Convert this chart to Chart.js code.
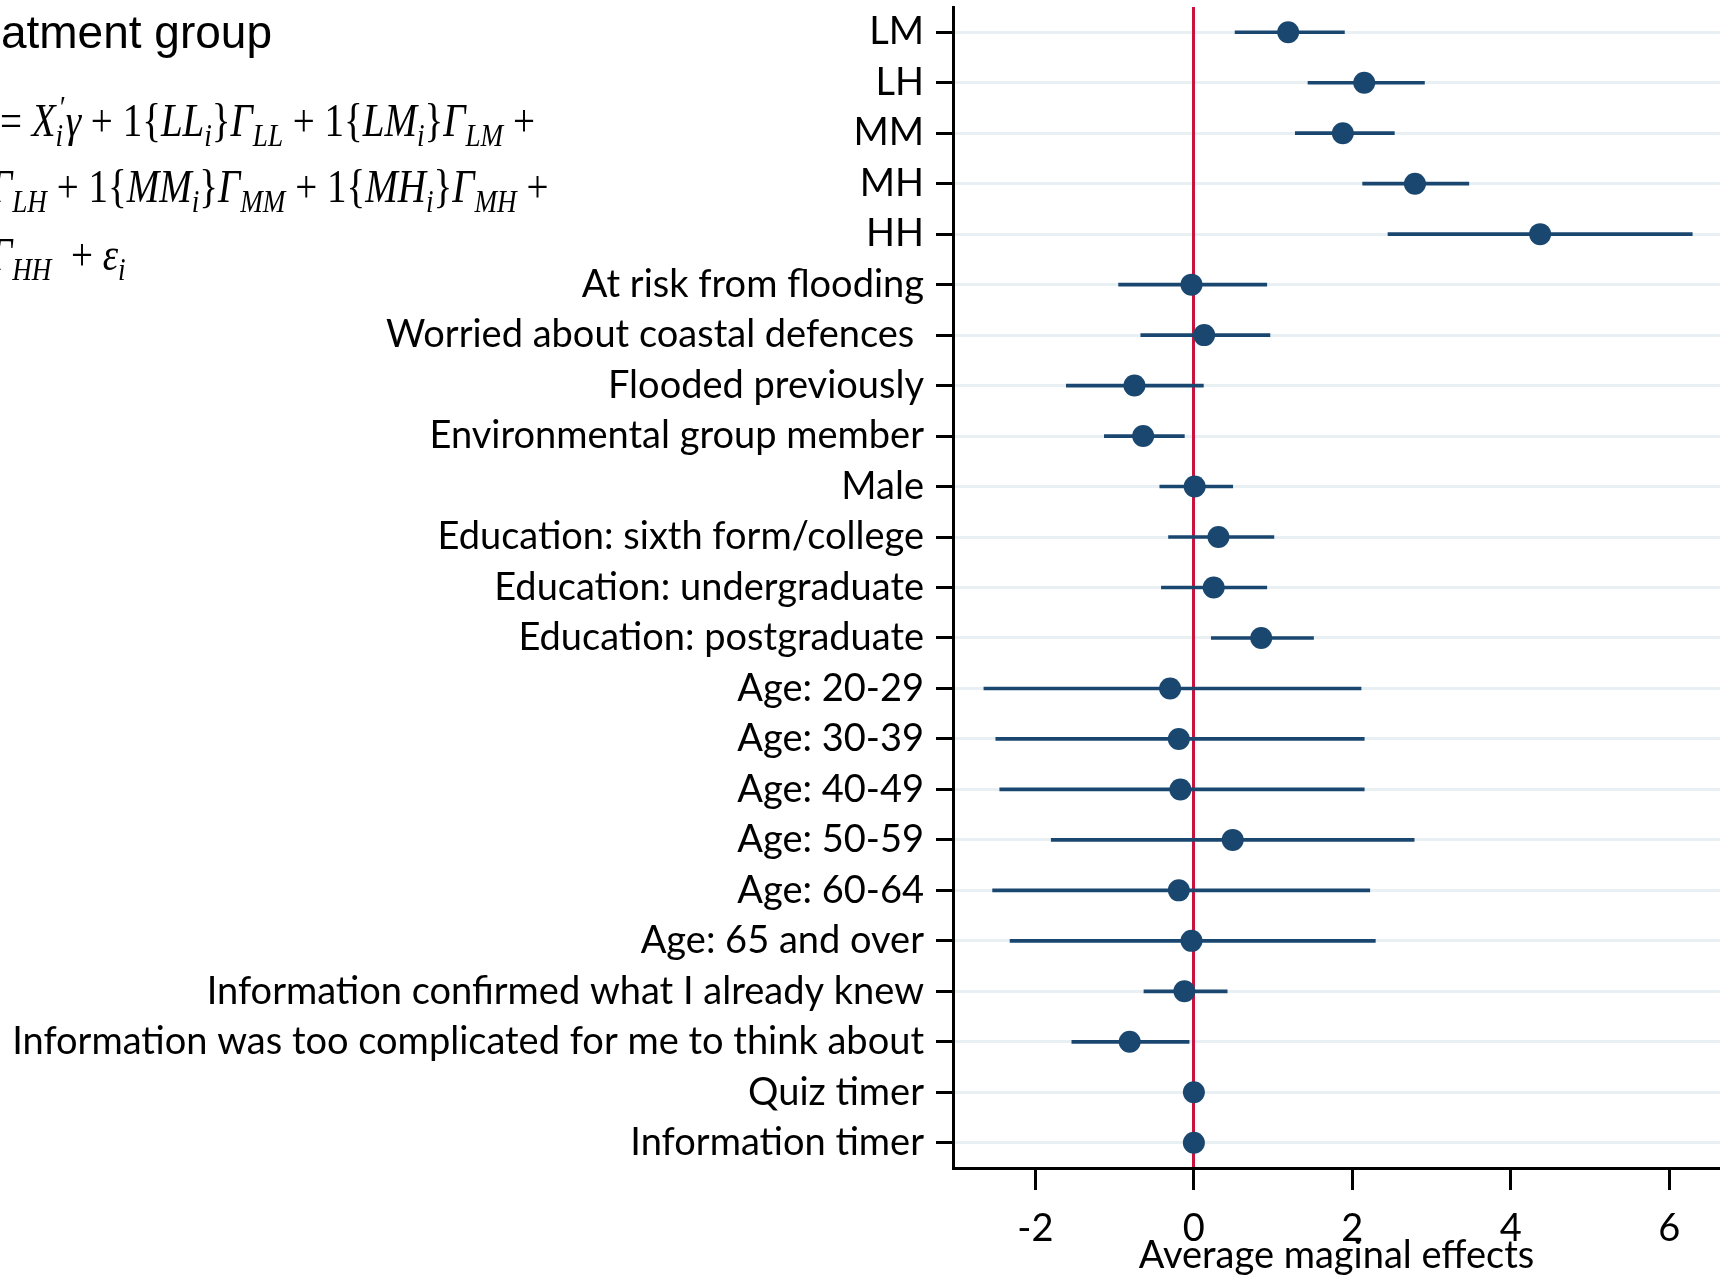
<!DOCTYPE html>
<html>
<head>
<meta charset="utf-8">
<script src="https://cdn.jsdelivr.net/npm/chart.js@4"></script>
<style>
  html, body { margin: 0; padding: 0; background: #fff; }
  #wrap { width: 1720px; height: 1276px; }
</style>
</head>
<body>
<div id="wrap"><canvas id="coef-chart" width="1720" height="1276"></canvas></div>
<script>
// covariates, top to bottom
const categories = [
  'LM', 'LH', 'MM', 'MH', 'HH',
  'At risk from flooding',
  'Worried about coastal defences ',
  'Flooded previously',
  'Environmental group member',
  'Male',
  'Education: sixth form/college',
  'Education: undergraduate',
  'Education: postgraduate',
  'Age: 20-29', 'Age: 30-39', 'Age: 40-49', 'Age: 50-59', 'Age: 60-64',
  'Age: 65 and over',
  'Information confirmed what I already knew',
  'Information was too complicated for me to think about',
  'Quiz timer',
  'Information timer'
];

// average marginal effects and 95% interval bounds
const effects = [1.19, 2.15, 1.88, 2.79, 4.37, -0.03, 0.13, -0.75, -0.64, 0.01, 0.31, 0.25, 0.85,
  -0.30, -0.19, -0.17, 0.49, -0.19, -0.03, -0.12, -0.81, 0.0, 0.0];
const ciLow = [0.52, 1.44, 1.28, 2.13, 2.45, -0.95, -0.67, -1.61, -1.13, -0.43, -0.32, -0.41, 0.22,
  -2.65, -2.50, -2.45, -1.80, -2.54, -2.32, -0.63, -1.54, -0.01, -0.01];
const ciHigh = [1.90, 2.91, 2.53, 3.47, 6.29, 0.92, 0.96, 0.12, -0.12, 0.49, 1.01, 0.92, 1.51,
  2.11, 2.15, 2.15, 2.78, 2.22, 2.29, 0.42, -0.06, 0.01, 0.01];

const xTicks = [-2, 0, 2, 4, 6];
const xMin = -3.04;
const xMax = 6.64;

const navy = '#1a476f';
const red = '#c8143c';
const labelFont = { family: 'Lato', size: 38 };

// model equation drawn at the top left
const eqLines = [
  { left: 0, base: 136, parts: [['= ', 'n'], ['X', 'i'], ['i', 'ps'], ['\u03B3', 'i'], [' + 1{', 'n'], ['LL', 'i'], ['i', 'b'], ['}', 'n'], ['\u0393', 'i'], ['LL', 'b'], [' + 1{', 'n'], ['LM', 'i'], ['i', 'b'], ['}', 'n'], ['\u0393', 'i'], ['LM', 'b'], [' +', 'n']] },
  { left: -10, base: 202, parts: [['\u0393', 'i'], ['LH', 'b'], [' + 1{', 'n'], ['MM', 'i'], ['i', 'b'], ['}', 'n'], ['\u0393', 'i'], ['MM', 'b'], [' + 1{', 'n'], ['MH', 'i'], ['i', 'b'], ['}', 'n'], ['\u0393', 'i'], ['MH', 'b'], [' +', 'n']] },
  { left: -10, base: 270, parts: [['\u0393', 'i'], ['HH', 'b'], ['  + ', 'n'], ['\u03B5', 'i'], ['i', 'b']] }
];
const eqWidth = 535;

const serif = '"Liberation Serif"';
function partFont(kind) {
  if (kind === 'n') return '46px ' + serif;
  if (kind === 'i') return 'italic 46px ' + serif;
  return 'italic 32px ' + serif;
}
function partWidth(ctx, p) {
  ctx.font = partFont(p[1]);
  return ctx.measureText(p[0]).width + (p[1] === 'ps' ? 3 : 0);
}
function lineWidth(ctx, line) {
  return line.parts.reduce((s, p) => s + partWidth(ctx, p), 0);
}

const annotations = {
  id: 'annotations',
  afterDraw(chart) {
    const ctx = chart.ctx;
    ctx.save();
    ctx.fillStyle = '#000';
    ctx.textBaseline = 'alphabetic';
    ctx.textAlign = 'right';
    ctx.font = '46px "Liberation Sans"';
    ctx.fillText('Treatment group', 272, 48);

    ctx.textAlign = 'left';
    const sx = eqWidth / lineWidth(ctx, eqLines[0]);
    eqLines.forEach(line => {
      ctx.save();
      ctx.translate(line.left, line.base);
      ctx.scale(sx, 1);
      let x = 0;
      line.parts.forEach(p => {
        ctx.font = partFont(p[1]);
        if (p[1] === 'ps') {
          ctx.fillText('\u2032', x + 3, -18);
          ctx.fillText(p[0], x, 10);
        } else if (p[1] === 'b') {
          ctx.fillText(p[0], x, 10);
        } else {
          ctx.fillText(p[0], x, 0);
        }
        x += partWidth(ctx, p);
      });
      ctx.restore();
    });
    ctx.restore();
  }
};

const ctx = document.getElementById('coef-chart').getContext('2d');
new Chart(ctx, {
  data: {
    labels: categories,
    datasets: [
      {
        type: 'bar',
        label: '95% CI',
        data: categories.map((c, i) => [ciLow[i], ciHigh[i]]),
        backgroundColor: navy,
        borderWidth: 0,
        barThickness: 3,
        order: 2
      },
      {
        type: 'line',
        label: 'Average marginal effect',
        data: effects,
        showLine: false,
        pointRadius: 11,
        pointHoverRadius: 11,
        pointBackgroundColor: navy,
        pointBorderWidth: 0,
        order: 1
      }
    ]
  },
  options: {
    indexAxis: 'y',
    responsive: false,
    animation: false,
    layout: { autoPadding: false, padding: { top: 7, left: 0, right: 0, bottom: 0 } },
    plugins: {
      legend: { display: false },
      tooltip: { enabled: false }
    },
    scales: {
      x: {
        type: 'linear',
        min: xMin,
        max: xMax,
        afterBuildTicks: scale => { scale.ticks = xTicks.map(v => ({ value: v })); },
        afterFit: scale => {
          scale.height = 108;
          scale.paddingLeft = 0;
          scale.paddingRight = 0;
        },
        grid: {
          color: c => (c.tick && c.tick.value === 0 ? red : 'rgba(0,0,0,0)'),
          lineWidth: 3,
          tickColor: '#000',
          tickWidth: 3,
          tickLength: 22
        },
        border: { color: '#000', width: 3 },
        ticks: { color: '#000', font: labelFont, padding: 16, maxRotation: 0 },
        title: {
          display: true,
          text: 'Average maginal effects',
          color: '#000',
          font: labelFont,
          padding: { top: 0, bottom: -3 }
        }
      },
      y: {
        type: 'category',
        offset: true,
        z: -1,
        afterFit: scale => {
          scale.width = 953;
          scale.paddingTop = 0;
          scale.paddingBottom = 0;
        },
        grid: {
          offset: false,
          z: -2,
          color: '#e9f0f3',
          lineWidth: 3,
          tickColor: '#000',
          tickWidth: 3,
          tickLength: 17
        },
        border: { color: '#000', width: 3 },
        ticks: { color: '#000', font: labelFont, padding: 12, autoSkip: false }
      }
    }
  },
  plugins: [annotations]
});
</script>
</body>
</html>
